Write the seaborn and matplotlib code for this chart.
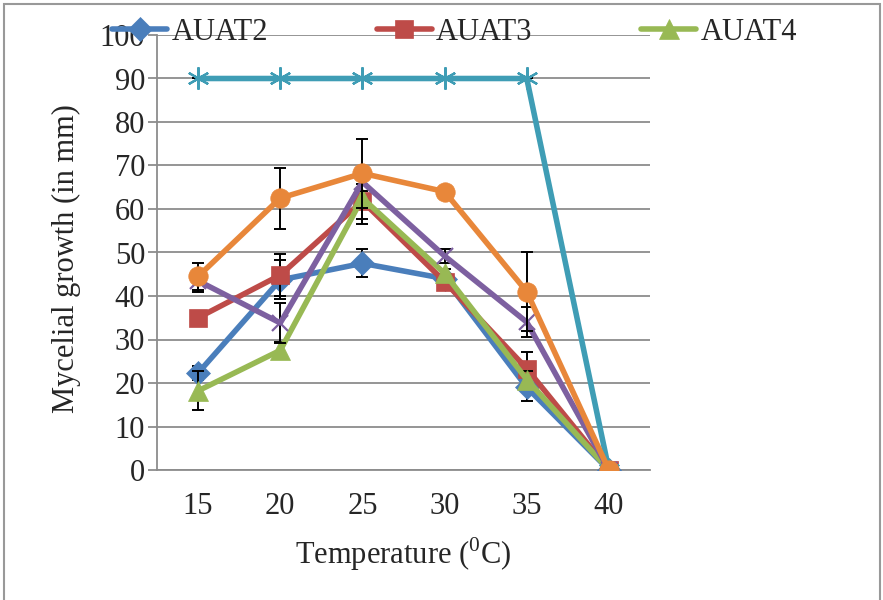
import numpy as np
import pandas as pd
import matplotlib
matplotlib.use("Agg")
import matplotlib.pyplot as plt
import seaborn as sns
from matplotlib.patches import Rectangle

# temperatures on the x axis
temps = [15, 20, 25, 30, 35, 40]

# mean mycelial growth (mm) per isolate
auat2 = [22.3, 43.7, 47.5, 44.0, 19.0, 0]
auat3 = [35.0, 44.8, 61.8, 43.3, 23.3, 0]
auat4 = [18.2, 27.5, 62.5, 45.2, 20.8, 0]
auat5 = [43.5, 33.8, 66.2, 49.2, 34.0, 0]
auat6 = [90, 90, 90, 90, 90, 0]
auat7 = [44.5, 62.5, 68.2, 64.0, 41.0, 0]

# error bar sizes (+/-)
err2 = [1.6, 4.5, 3.2, 1.0, 3.2, 0]
err3 = [1.0, 4.8, 4.0, 1.0, 3.8, 0]
err4 = [4.5, 2.0, 6.0, 1.0, 2.0, 0]
err5 = [2.5, 4.5, 2.0, 1.5, 3.5, 0]
err6 = [0, 0, 0, 0, 0, 0]
err7 = [3.2, 7.0, 7.9, 1.0, 9.0, 0]

names = ["AUAT2", "AUAT3", "AUAT4", "AUAT5", "AUAT6", "AUAT7"]
series = [auat2, auat3, auat4, auat5, auat6, auat7]
errors = [err2, err3, err4, err5, err6, err7]

colors = ["#4A7EBB", "#BE4B48", "#98B954", "#7D60A0", "#3F9DB5", "#E8873A"]
markers = ["D", "s", "^", "x", (6, 2, 0), "o"]
msizes = [12, 12.5, 14, 11, 16, 14]

sns.set_style("white")
plt.rcParams["font.family"] = ["Liberation Serif", "DejaVu Serif"]
plt.rcParams["mathtext.fontset"] = "custom"
plt.rcParams["mathtext.rm"] = "Liberation Serif"

fig = plt.figure(figsize=(8.83, 6), dpi=100)
ax = fig.add_axes([157 / 883, 1 - 470 / 600, 493 / 883, 435 / 600])

grid_c = "#8C8C8C"
for i, (name, vals, errs) in enumerate(zip(names, series, errors)):
    df = pd.DataFrame({"temp": temps, "growth": vals})
    z = 3 + i
    ax.errorbar(temps, vals, yerr=errs, fmt="none", ecolor="black",
                elinewidth=1.4, capsize=4.5, capthick=1.4, zorder=z - 0.5)
    thin = markers[i] in ("x", (6, 2, 0))
    sns.lineplot(data=df, x="temp", y="growth", ax=ax, color=colors[i],
                 marker=markers[i], markersize=msizes[i], linewidth=4,
                 markeredgecolor=colors[i], markeredgewidth=1.6 if thin else 0.5,
                 label=name, zorder=z)

ax.get_legend().remove()

ax.set_xlim(12.5, 42.5)
ax.set_ylim(0, 100)
ax.set_xticks(temps)
ax.set_yticks(np.arange(0, 101, 10))
ax.yaxis.grid(True, color=grid_c, linewidth=1.3)
ax.xaxis.grid(False)
ax.set_axisbelow(True)

for s in ["top", "right"]:
    ax.spines[s].set_visible(False)
for s in ["left", "bottom"]:
    ax.spines[s].set_color(grid_c)
    ax.spines[s].set_linewidth(1.3)

ax.tick_params(axis="y", direction="out", length=6.5, width=1.3, color=grid_c,
               pad=2, labelsize=22, left=True)
ax.tick_params(axis="x", length=0, pad=16, labelsize=22)

ax.set_xlabel(r"Temperature ($^{\mathregular{0}}$C)", fontsize=22)
ax.set_ylabel("Mycelial growth (in mm)", fontsize=22)
ax.xaxis.set_label_coords(0.499, -0.15)
ax.yaxis.set_label_coords(-0.155, 0.487)

handles, labels = ax.get_legend_handles_labels()
fig.legend(handles[:3], labels[:3], loc="center left",
           bbox_to_anchor=(112 / 883, 1 - 32 / 600), ncol=3, frameon=False,
           fontsize=22, borderpad=0, borderaxespad=0, handlelength=1.8,
           handletextpad=0.15, columnspacing=3.55)

fig.patches.append(Rectangle((4 / 883, -0.05), 876 / 883, 1.05 - 4 / 600,
                             transform=fig.transFigure, fill=False,
                             edgecolor="#999999", linewidth=1.5))

fig.savefig("out.png", dpi=100)
